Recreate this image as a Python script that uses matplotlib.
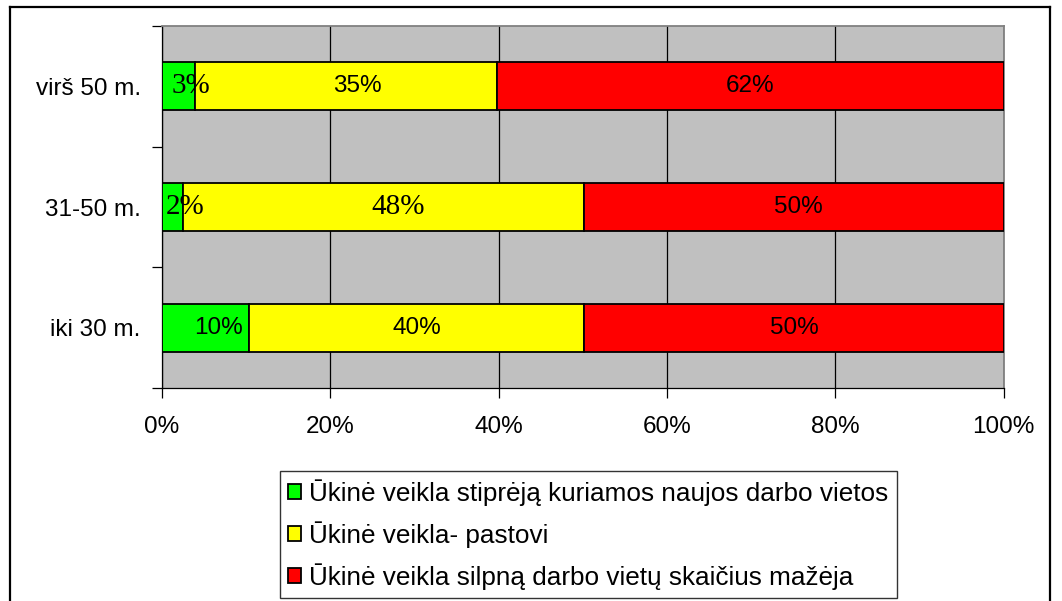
import matplotlib.pyplot as plt
from matplotlib.patches import Patch
from matplotlib.lines import Line2D
import numpy as np

# ================================================
# Data
# ================================================
groups = ["iki 30 m.", "31-50 m.", "virš 50 m."]
series_names = [
    "Ūkinė veikla stiprėją kuriamos naujos darbo vietos",
    "Ūkinė veikla- pastovi",
    "Ūkinė veikla silpną darbo vietų skaičius mažėja",
]
stronger = [10.4, 2.5, 3.9]
stable = [39.8, 47.7, 35.9]
weaker = [49.8, 49.8, 60.2]
label_stronger = ["10%", "2%", "3%"]
label_stable = ["40%", "48%", "35%"]
label_weaker = ["50%", "50%", "62%"]
xticks = [0, 20, 40, 60, 80, 100]
xtick_labels = ["0%", "20%", "40%", "60%", "80%", "100%"]

colors = ["#00FF00", "#FFFF00", "#FF0000"]
sans = "Liberation Sans"
serif = "Liberation Serif"

# some labels were in Times in the original
label_font = [
    [sans, serif, serif],   # stronger: iki30, 31-50, virs50
    [sans, serif, sans],    # stable
    [sans, sans, sans],     # weaker
]
label_shift = [
    [1.5, 1.5, 1.5],
    [0.0, 1.7, 1.4],
    [0.0, 0.5, 0.0],
]

W, H = 1062, 601
fig = plt.figure(figsize=(W / 100, H / 100), dpi=100)
fig.patch.set_facecolor("white")

ax = fig.add_axes([161.7 / W, 1 - 388 / H, 842 / W, 362 / H])
ax.set_facecolor("#C0C0C0")

y = np.arange(len(groups))
series = [stronger, stable, weaker]
labels = [label_stronger, label_stable, label_weaker]
left = np.zeros(len(groups))
for k, vals in enumerate(series):
    vals = np.array(vals)
    ax.barh(y, vals, left=left, height=0.4, color=colors[k],
            edgecolor="black", linewidth=1.3, zorder=3, label=series_names[k])
    for i in range(len(groups)):
        cx = left[i] + vals[i] / 2 + label_shift[k][i]
        fs = 21 if label_font[k][i] == serif else 17.5
        ax.text(cx, y[i], labels[k][i], ha="center", va="center",
                fontsize=fs, family=label_font[k][i], zorder=4)
    left = left + vals

ax.set_xlim(0, 100)
ax.set_ylim(-0.5, 2.5)

# vertical grid
ax.set_xticks(xticks)
ax.set_xticklabels(xtick_labels, family=sans, fontsize=17.5)
ax.xaxis.grid(True, color="black", linewidth=0.9, zorder=1)
ax.set_axisbelow(True)
ax.tick_params(axis="x", direction="out", length=7, width=0.9, pad=13)

# y ticks on boundaries, labels at centres
ax.set_yticks([-0.5, 0.5, 1.5, 2.5])
ax.set_yticklabels([])
ax.set_yticks(y, minor=True)
ax.set_yticklabels(groups, minor=True, family=sans, fontsize=17.5)
ax.tick_params(axis="y", which="major", direction="out", length=7, width=0.9)
ax.tick_params(axis="y", which="minor", length=0, pad=15)

for s in ["left", "bottom"]:
    ax.spines[s].set_color("black")
    ax.spines[s].set_linewidth(0.9)
for s in ["top", "right"]:
    ax.spines[s].set_color("#808080")
    ax.spines[s].set_linewidth(1.3)

# legend
handles = [Patch(facecolor=c, edgecolor="black", linewidth=1.3) for c in colors]
leg = fig.legend(handles, series_names, loc="upper left",
                 bbox_to_anchor=(280 / W, 1 - 471 / H), borderaxespad=0,
                 prop={"family": sans, "size": 18.8}, frameon=True,
                 fancybox=False, handlelength=0.5, handleheight=0.5,
                 handletextpad=0.3, labelspacing=0.58, borderpad=0.32)
leg.get_frame().set_edgecolor("black")
leg.get_frame().set_linewidth(1.0)

# outer chart frame
fx0, fx1, fy0 = 9.5 / W, 1050 / W, 1 - 6.5 / H
for xs, ys in [([fx0, fx1], [fy0, fy0]), ([fx0, fx0], [fy0, 0]), ([fx1, fx1], [fy0, 0])]:
    fig.add_artist(Line2D(xs, ys, transform=fig.transFigure, color="black", linewidth=1.6))

fig.savefig("out.png", dpi=100)
